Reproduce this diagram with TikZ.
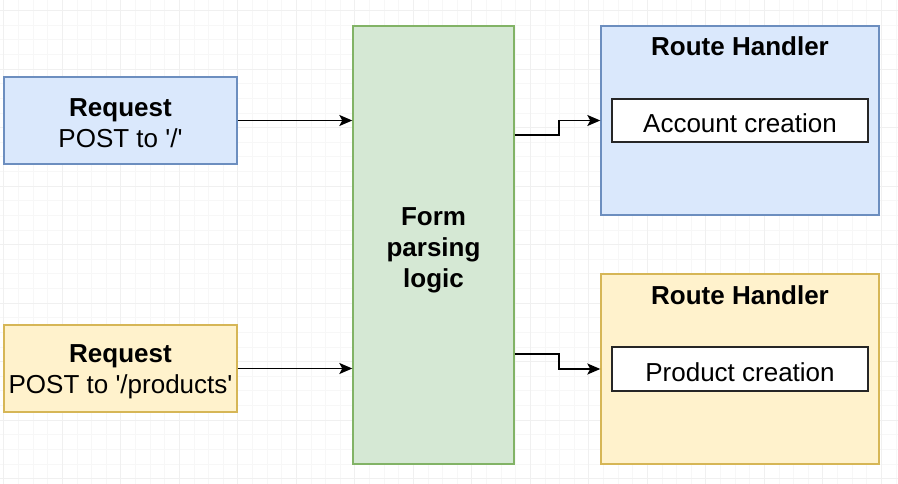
\documentclass[tikz,border=0pt]{standalone}
\usepackage{fontspec}
\setmainfont{Liberation Sans}[Ligatures=TeXOff]
\usetikzlibrary{arrows.meta,positioning}
\definecolor{blueFill}{HTML}{DAE8FC}
\definecolor{blueLine}{HTML}{6C8EBF}
\definecolor{yellowFill}{HTML}{FFF2CC}
\definecolor{yellowLine}{HTML}{D6B656}
\definecolor{greenFill}{HTML}{D5E8D4}
\definecolor{greenLine}{HTML}{82B366}

\begin{document}
\begin{tikzpicture}[x=1pt, y=-1pt, >={Stealth[length=13pt,width=11pt,inset=3pt]},
    every node/.style={align=center,font=\fontsize{26}{31}\selectfont,inner sep=0pt},
    box/.style={draw,line width=1.4pt,rectangle},
    boxtext/.style={label={[yshift=-3pt]center:{#1}}},
    flow/.style={->,line width=1.6pt,black}]
    \fill[white] (0,0) rectangle (898,484);
    \useasboundingbox (0,0) rectangle (898,484);
    \begin{scope}[shift={(3.75,10.5)}]
      \draw[black!3,line width=0.6pt,step=14.625pt] (-3.75,-10.5) grid (894.25,473.5);
      \draw[black!6,line width=0.8pt,step=58.5pt] (-3.75,-10.5) grid (894.25,473.5);
    \end{scope}
    \node[box,fill=blueFill,draw=blueLine,minimum width=233pt,minimum height=87pt,
      boxtext={\textbf{Request}\\POST to '/'}] (req1) at (120.5,120.5) {};
    \node[box,fill=yellowFill,draw=yellowLine,minimum width=233pt,minimum height=87pt,
      boxtext={\textbf{Request}\\POST to '/products'}] (req2) at (120.5,368.5) {};
    \node[box,fill=greenFill,draw=greenLine,minimum width=161pt,minimum height=438pt,
      label={[yshift=-5pt]center:{\textbf{Form}\\\textbf{parsing}\\\textbf{logic}}}] (form) at (433.5,245) {};
    \node[box,fill=blueFill,draw=blueLine,minimum width=278pt,minimum height=189pt] (route1) at (740,120.5) {};
    \node[box,fill=yellowFill,draw=yellowLine,minimum width=278pt,minimum height=190pt] (route2) at (740,369) {};
    \node[font=\fontsize{26}{31}\selectfont\bfseries] (title1) at ([yshift=-21pt]route1.north) {Route Handler};
    \node[font=\fontsize{26}{31}\selectfont\bfseries] (title2) at ([yshift=-22pt]route2.north) {Route Handler};
    \node[box,fill=white,draw=black!85,minimum width=256pt,minimum height=43pt,
      boxtext={Account creation}] (acct) at (740,120.5) {};
    \node[box,fill=white,draw=black!85,minimum width=256pt,minimum height=44pt,
      boxtext={Product creation}] (prod) at (740,369) {};
    \draw[flow] (req1.east) -- (req1.east -| form.west);
    \draw[flow] (req2.east) -- (req2.east -| form.west);
    \draw[flow] ([yshift=-14.5pt]route1.west -| form.east) -- ++(44,0) |- (route1.west);
    \draw[flow] ([yshift=15pt]route2.west -| form.east) -- ++(44,0) |- (route2.west);
  \end{tikzpicture}
\end{document}
